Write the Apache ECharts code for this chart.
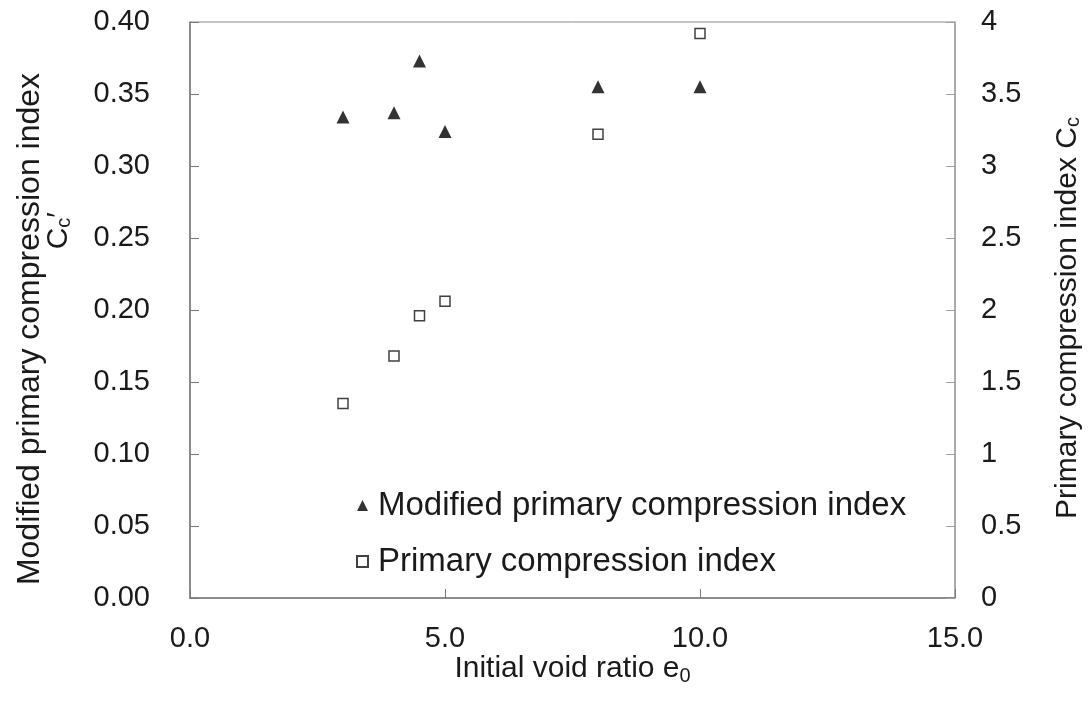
<!DOCTYPE html>
<html>
<head>
<meta charset="utf-8">
<script src="https://cdn.jsdelivr.net/npm/echarts@6/dist/echarts.min.js"></script>
<style>
html,body{margin:0;padding:0;background:#fff;}
#main{width:1091px;height:704px;}
</style>
</head>
<body>
<div id="main"></div>
<script>
// Data
const voidRatio = [3.0, 4.0, 4.5, 5.0, 8.0, 10.0];
const modifiedCc = [0.334, 0.337, 0.373, 0.324, 0.355, 0.355];
const primaryCc = [1.35, 1.68, 1.96, 2.06, 3.22, 3.92];
const seriesNames = ['Modified primary compression index', 'Primary compression index'];
const xTitle = 'Initial void ratio';
const yLeftTitle = 'Modified primary compression index';
const yRightTitle = 'Primary compression index';

const FONT = 'Liberation Sans, Arial, sans-serif';
const chart = echarts.init(document.getElementById('main'));

const modData = voidRatio.map((x, i) => [x, modifiedCc[i]]);
const priData = voidRatio.map((x, i) => [x, primaryCc[i]]);

chart.setOption({
  animation: false,
  backgroundColor: '#fff',
  grid: {left: 190, right: 132, top: 22, bottom: 106, show: true, borderColor: '#8a8a8a', borderWidth: 1},
  legend: {
    orient: 'vertical', left: 351, top: 484, itemGap: 23,
    itemWidth: 11, itemHeight: 11,
    textStyle: {fontFamily: FONT, fontSize: 33, color: '#1a1a1a', padding: [0,0,0,5]},
    data: seriesNames
  },
  xAxis: {
    type: 'value', min: 0, max: 15, interval: 5,
    name: '{t|' + xTitle + ' e}{s|0}',
    nameLocation: 'middle', nameGap: 54, nameMoveOverlap: false,
    nameTextStyle: {rich: {
      t: {fontFamily: FONT, fontSize: 30, color: '#1a1a1a'},
      s: {fontFamily: FONT, fontSize: 20, color: '#1a1a1a', padding: [14,0,0,0]}
    }},
    axisLine: {lineStyle: {color: '#7a7a7a', width: 1.5}},
    axisTick: {inside: true, length: 9, lineStyle: {color: '#7a7a7a'}},
    splitLine: {show: false},
    axisLabel: {fontFamily: FONT, fontSize: 29, color: '#1a1a1a', margin: 26, formatter: v => v.toFixed(1)}
  },
  yAxis: [{
    type: 'value', min: 0, max: 0.4, interval: 0.05, position: 'left',
    name: yLeftTitle, nameLocation: 'middle', nameGap: 144, nameRotate: 90,
    nameTextStyle: {fontFamily: FONT, fontSize: 32, color: '#1a1a1a', padding: [0, 38, 0, 0]},
    axisLine: {show: true, lineStyle: {color: '#7a7a7a', width: 1.5}},
    axisTick: {show: true, inside: true, length: 9, lineStyle: {color: '#7a7a7a'}},
    splitLine: {show: false},
    axisLabel: {fontFamily: FONT, fontSize: 29, color: '#1a1a1a', margin: 40, formatter: v => v.toFixed(2)}
  }, {
    type: 'value', min: 0, max: 4, interval: 0.5, position: 'right',
    name: '{t|' + yRightTitle + ' C}{s|c}', nameLocation: 'middle', nameGap: 98, nameRotate: 90,
    nameTextStyle: {padding: [0, 16, 0, 0], rich: {
      t: {fontFamily: FONT, fontSize: 30, color: '#1a1a1a'},
      s: {fontFamily: FONT, fontSize: 20, color: '#1a1a1a', padding: [10,0,0,0]}
    }},
    axisLine: {show: true, lineStyle: {color: '#a0a0a0', width: 1.5}},
    axisTick: {show: true, inside: true, length: 9, lineStyle: {color: '#a0a0a0'}},
    splitLine: {show: false},
    axisLabel: {fontFamily: FONT, fontSize: 29, color: '#1a1a1a', margin: 26}
  }],
  graphic: [{
    type: 'text', left: 44, top: 212, rotation: Math.PI / 2,
    style: {
      text: '{c|C}{s|c}{c|′}',
      rich: {
        c: {fontFamily: FONT, fontSize: 30, fill: '#1a1a1a'},
        s: {fontFamily: FONT, fontSize: 20, fill: '#1a1a1a', padding: [10,0,0,0]}
      }
    }
  }],
  series: [{
    name: seriesNames[0], type: 'scatter', yAxisIndex: 0,
    symbol: 'triangle', symbolSize: 13,
    itemStyle: {color: '#000'},
    data: modData
  }, {
    name: seriesNames[1], type: 'scatter', yAxisIndex: 1,
    symbol: 'rect', symbolSize: 10,
    itemStyle: {color: '#fff', borderColor: '#111', borderWidth: 1.5},
    data: priData
  }]
});
</script>
</body>
</html>
